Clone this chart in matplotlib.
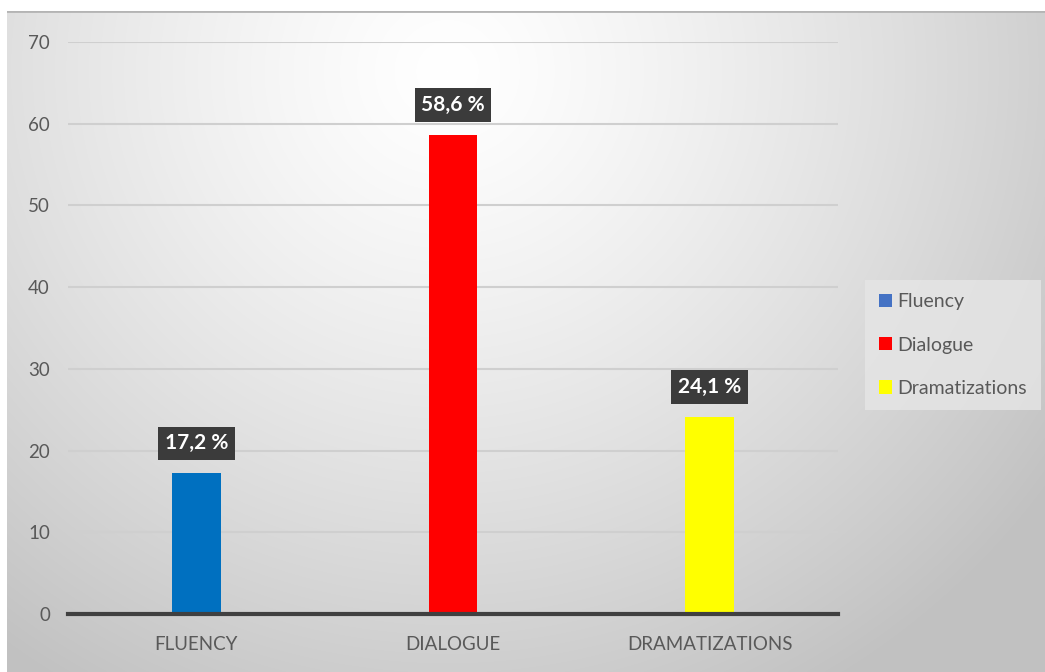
import numpy as np
import matplotlib
matplotlib.use("Agg")
from matplotlib import pyplot as plt
from matplotlib.patches import Patch

categories = ["FLUENCY", "DIALOGUE", "DRAMATIZATIONS"]
series_names = ["Fluency", "Dialogue", "Dramatizations"]
values = [17.2, 58.6, 24.1]
value_labels = ["17,2 %", "58,6 %", "24,1 %"]
yticks = [0, 10, 20, 30, 40, 50, 60, 70]

bar_colors = ["#0070C0", "#FF0000", "#FFFF00"]
legend_colors = ["#4472C4", "#FF0000", "#FFFF00"]
text_grey = "#595959"

plt.rcParams["font.family"] = ["Lato", "DejaVu Sans"]

fig = plt.figure(figsize=(10.45, 6.72), dpi=100)
fig.patch.set_facecolor("white")

# radial grey-white backdrop
bg = fig.add_axes([7 / 1045, 0, 1 - 7 / 1045, 661 / 672], zorder=-2)
h, w = 661, 1038
yy, xx = np.mgrid[0:h, 0:w]
r = np.sqrt(((xx - 440) / 640.0) ** 2 + ((yy - 60) / 620.0) ** 2)
shade = 1.0 - 0.2 * np.clip(r, 0, 1.15) ** 1.3
img = np.dstack([shade, shade, shade])
bg.imshow(img, aspect="auto", extent=(0, 1, 0, 1))
bg.set_xlim(0, 1)
bg.set_ylim(0, 1)
bg.axhline(1, color="#b4b4b4", lw=2)
bg.axis("off")

ax = fig.add_axes([68 / 1045, 58 / 672, 770 / 1045, 572 / 672])
ax.set_facecolor("none")

x = np.arange(len(categories))
bars = ax.bar(x, values, width=0.19, color=bar_colors, zorder=3)

for xi, v, lab in zip(x, values, value_labels):
    ax.text(xi, v + 3.7, lab, ha="center", va="center", color="white",
            fontsize=15, fontweight="bold", zorder=5,
            bbox=dict(boxstyle="square,pad=0.32", facecolor="#3b3b3b",
                      edgecolor="none"))

ax.set_xlim(-0.5, 2.5)
ax.set_ylim(0, 70)
ax.set_yticks(yticks)
ax.set_xticks(x)
ax.set_xticklabels(categories)
ax.tick_params(axis="both", length=0, labelsize=13.5, colors=text_grey)
ax.tick_params(axis="y", pad=13)
ax.tick_params(axis="x", pad=16)
ax.yaxis.grid(True, color="#cfcfcf", lw=1.5, zorder=0)
for s in ["top", "right", "left"]:
    ax.spines[s].set_visible(False)
ax.spines["bottom"].set_color("#404040")
ax.spines["bottom"].set_linewidth(3)
ax.spines["bottom"].set_zorder(4)

handles = [Patch(facecolor=c, edgecolor="none") for c in legend_colors]
leg = fig.legend(handles, series_names, loc="center left",
                 bbox_to_anchor=(865 / 1045, 1 - 345 / 672),
                 frameon=True, fontsize=14, handlelength=0.67, handleheight=0.67,
                 handletextpad=0.3, labelspacing=1.35, borderpad=0.7,
                 borderaxespad=0, fancybox=False)
leg.get_frame().set_facecolor("#e6e6e6")
leg.get_frame().set_edgecolor("none")
leg.get_frame().set_alpha(0.8)
for t in leg.get_texts():
    t.set_color(text_grey)

fig.savefig("out.png", dpi=100)
